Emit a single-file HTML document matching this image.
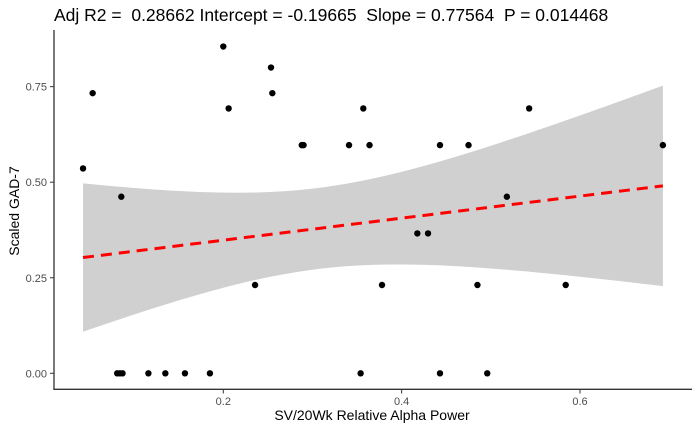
<!DOCTYPE html>
<html><head><meta charset="utf-8"><style>
body{margin:0;background:#fff;font-family:"Liberation Sans",Arial,sans-serif}
</style></head><body>
<svg id="c" width="700" height="432" xmlns="http://www.w3.org/2000/svg">
<text x="54" y="21" font-size="17.5" fill="#000" style="white-space:pre" xml:space="preserve">Adj R2 =  0.28662 Intercept = -0.19665  Slope = 0.77564  P = 0.014468</text>
<text x="372" y="420" font-size="14" text-anchor="middle" fill="#000">SV/20Wk Relative Alpha Power</text>
<text transform="translate(19,211) rotate(-90)" font-size="14" text-anchor="middle" fill="#000">Scaled GAD-7</text>
<g id="band"></g><g id="fit"></g><g id="pts"></g><g id="axes"></g>
</svg>
<script>
const xs=[0.0427,0.0535,0.2,0.2535,0.255,0.206,0.288,0.290,0.341,0.0856,0.2356,0.081,0.084,0.087,0.116,0.135,0.157,0.185,0.357,0.364,0.443,0.475,0.543,0.693,0.518,0.4176,0.4296,0.378,0.485,0.584,0.354,0.443,0.496];
const ys=[0.536,0.733,0.855,0.80,0.733,0.693,0.597,0.597,0.597,0.462,0.231,0,0,0,0,0,0,0,0.693,0.597,0.597,0.597,0.693,0.597,0.462,0.366,0.366,0.231,0.231,0.231,0,0,0];
const xTicks=[0.2,0.4,0.6];
const yTicks=[0,0.25,0.5,0.75];
const yTickLabels=["0.00","0.25","0.50","0.75"];
const NS="http://www.w3.org/2000/svg";
const X=v=>223.3+(v-0.2)*891.7, Y=v=>373.3-382.2*v;
function mk(t,a,p){const e=document.createElementNS(NS,t);for(const k in a)e.setAttribute(k,a[k]);p.appendChild(e);return e;}
const n=xs.length;let mx=0,my=0;for(let i=0;i<n;i++){mx+=xs[i];my+=ys[i];}mx/=n;my/=n;
let sxx=0,sxy=0;for(let i=0;i<n;i++){sxx+=(xs[i]-mx)**2;sxy+=(xs[i]-mx)*(ys[i]-my);}
const b=sxy/sxx,a=my-b*mx;let sse=0;for(let i=0;i<n;i++)sse+=(ys[i]-a-b*xs[i])**2;
const s=Math.sqrt(sse/(n-2)),t=2.04;
const x0=Math.min(...xs),x1=Math.max(...xs);
let up=[],lo=[];for(let k=0;k<=60;k++){const x=x0+(x1-x0)*k/60,f=a+b*x,se=s*Math.sqrt(1/n+(x-mx)**2/sxx);up.push(X(x)+','+Y(f+t*se));lo.unshift(X(x)+','+Y(f-t*se));}
const band=mk('polygon',{points:up.concat(lo).join(' '),fill:'#d0d0d0'},document.getElementById('band'));


const fl=mk('line',{x1:X(x0),y1:Y(a+b*x0),x2:X(x1),y2:Y(a+b*x1),stroke:'#ff0000','stroke-width':3,'stroke-dasharray':'11,7'},document.getElementById('fit'));


const pg=document.getElementById('pts');
for(let i=0;i<n;i++){const c=mk('circle',{cx:X(xs[i]),cy:Y(ys[i]),r:3.2,fill:'#000'},pg);

}
const ag=document.getElementById('axes');
const ya=mk('line',{x1:54,y1:30,x2:54,y2:390,stroke:'#333','stroke-width':1.3},ag);


const xa=mk('line',{x1:53.4,y1:389.3,x2:692,y2:389.3,stroke:'#333','stroke-width':1.3},ag);


yTicks.forEach((v,i)=>{mk('line',{x1:50,y1:Y(v),x2:54,y2:Y(v),stroke:'#333'},ag);
const tx=mk('text',{x:47,y:Y(v)+4,'font-size':11,fill:'#4d4d4d','text-anchor':'end'},ag);tx.textContent=yTickLabels[i];

});
xTicks.forEach(v=>{mk('line',{x1:X(v),y1:389.3,x2:X(v),y2:393.5,stroke:'#333'},ag);
const tx=mk('text',{x:X(v),y:405,'font-size':11,fill:'#4d4d4d','text-anchor':'middle'},ag);tx.textContent=String(v);

});
</script>
</body></html>
